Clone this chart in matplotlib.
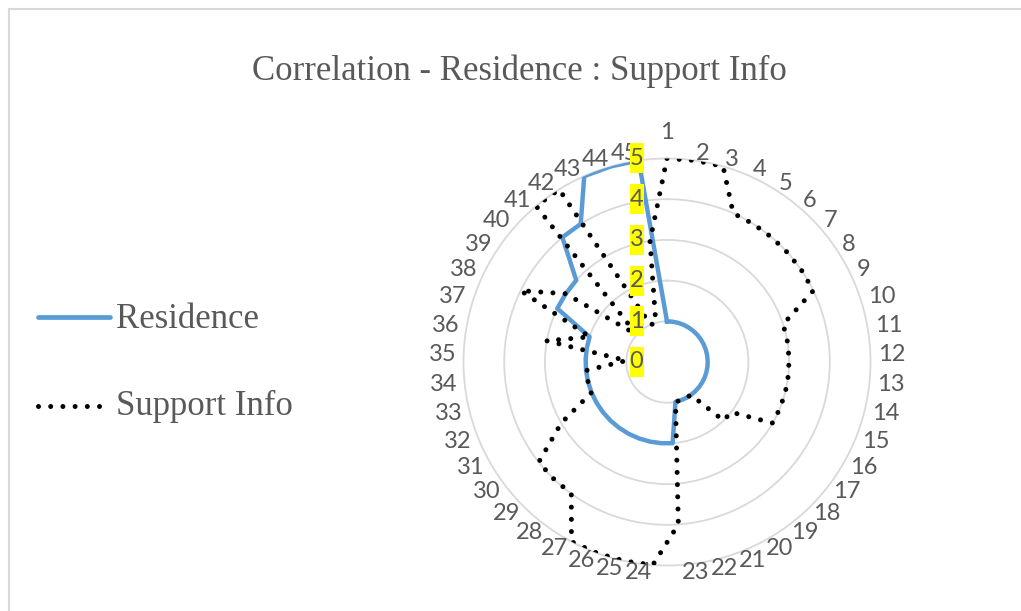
import numpy as np
import matplotlib
matplotlib.use("Agg")
import matplotlib.pyplot as plt
from matplotlib.patches import Rectangle

# ---- data -------------------------------------------------------------
categories = [str(i) for i in range(1, 46)]
residence = [1, 1, 1, 1, 1, 1, 1, 1, 1, 1, 1, 1, 1, 1, 1, 1, 1, 1, 1, 1, 1, 1,
             2, 2, 2, 2, 2, 2, 2, 2, 2, 2, 2, 2, 2, 2, 2,
             3, 3, 3, 4, 4, 5, 5, 5]
support_info = [5, 5, 5, 4, 4, 4, 4, 4, 4, 3, 3, 3, 3, 3, 3, 3, 2, 2, 1, 1, 1, 1,
                4, 5, 5, 5, 5, 4, 4, 4, 3, 2, 2, 2, 1, 3, 2, 4, 3, 1, 5, 5, 1, 1, 3]
radial_ticks = [0, 1, 2, 3, 4, 5]
series_names = ["Residence", "Support Info"]
title = "Correlation - Residence : Support Info"

# ---- styling ------------------------------------------------------------
W, H, DPI = 1021, 611, 100
GRAY_TXT = "#595959"
GRID = "#D9D9D9"
BLUE = "#5B9BD5"
LABEL_FONT = "Lato"
LABEL_SIZE = 17
SERIF = "Liberation Serif"
DOT_STYLE = dict(color="black", lw=3.6, linestyle=(0, (0.001, 2.44)),
                 dash_capstyle="round")

fig = plt.figure(figsize=(W / DPI, H / DPI), dpi=DPI)
fig.patch.set_facecolor("white")

# polar plot area (pixel geometry of the radar)
cx, cy, R = 667, 362, 203.5
ax = fig.add_axes([(cx - R) / W, (H - cy - R) / H, 2 * R / W, 2 * R / H],
                  projection="polar")
ax.set_facecolor("none")
ax.set_theta_zero_location("N")
ax.set_theta_direction(-1)
ax.set_ylim(0, radial_ticks[-1])
ax.set_yticks(radial_ticks[1:-1])
ax.set_yticklabels([])
ax.set_xticks([])
ax.yaxis.grid(True, color=GRID, lw=1.3)
ax.xaxis.grid(False)
ax.spines["polar"].set_color(GRID)
ax.spines["polar"].set_linewidth(1.3)

n = len(categories)
theta = np.arange(n) * 2 * np.pi / n
th_closed = np.r_[theta, theta[:1]]


def closed(vals):
    v = np.asarray(vals, dtype=float)
    return np.r_[v, v[:1]]


ax.plot(th_closed, closed(residence), color=BLUE, lw=3.2,
        solid_joinstyle="round", zorder=3)
ax.plot(th_closed, closed(support_info), zorder=4, **DOT_STYLE)

# category labels around the outer ring: pushed out radially, then shifted
# sideways by half their width away from the vertical axis
for i, (t, lab) in enumerate(zip(theta, categories)):
    half_w = 6.8 * len(lab)
    side = np.sign(np.round(np.sin(t), 6))
    d = 7.5 + (18 if i == 0 else 0)
    ax.annotate(lab, xy=(t, radial_ticks[-1]),
                xytext=(d * np.sin(t) + side * half_w, d * np.cos(t)),
                textcoords="offset pixels", ha="center", va="center",
                fontsize=LABEL_SIZE, family=LABEL_FONT, color=GRAY_TXT,
                annotation_clip=False)

fig.canvas.draw()

# overlay in figure pixel coordinates for title, legend and value labels
ov = fig.add_axes([0, 0, 1, 1], zorder=5)
ov.set_xlim(0, W)
ov.set_ylim(0, H)
ov.axis("off")
ov.patch.set_alpha(0)

# highlighted value-axis labels
for v in radial_ticks:
    x_d, y_d = ax.transData.transform((0, v))
    bx = x_d - 30.5
    ov.add_patch(Rectangle((bx - 7, y_d - 15), 14, 30,
                           facecolor="#FFFF00", edgecolor="none"))
    ov.text(bx, y_d, str(v), ha="center", va="center", fontsize=LABEL_SIZE,
            family=LABEL_FONT, color=GRAY_TXT)

# frame lines
ov.plot([9, W], [H - 9, H - 9], color=GRID, lw=1.5)
ov.plot([9, 9], [0, H - 9], color=GRID, lw=1.5)

# title
ov.text(519, H - 80, title, ha="center", va="baseline", fontsize=25,
        family=SERIF, color=GRAY_TXT)

# legend
ov.plot([38, 110], [H - 317, H - 317], color=BLUE, lw=3.4,
        solid_capstyle="round")
ov.text(116, H - 328, series_names[0], ha="left", va="baseline",
        fontsize=25, family=SERIF, color=GRAY_TXT)
ov.plot([38, 107], [H - 406, H - 406], **DOT_STYLE)
ov.text(116, H - 415, series_names[1], ha="left", va="baseline",
        fontsize=25, family=SERIF, color=GRAY_TXT)

fig.savefig("out.png", dpi=DPI, facecolor="white")
